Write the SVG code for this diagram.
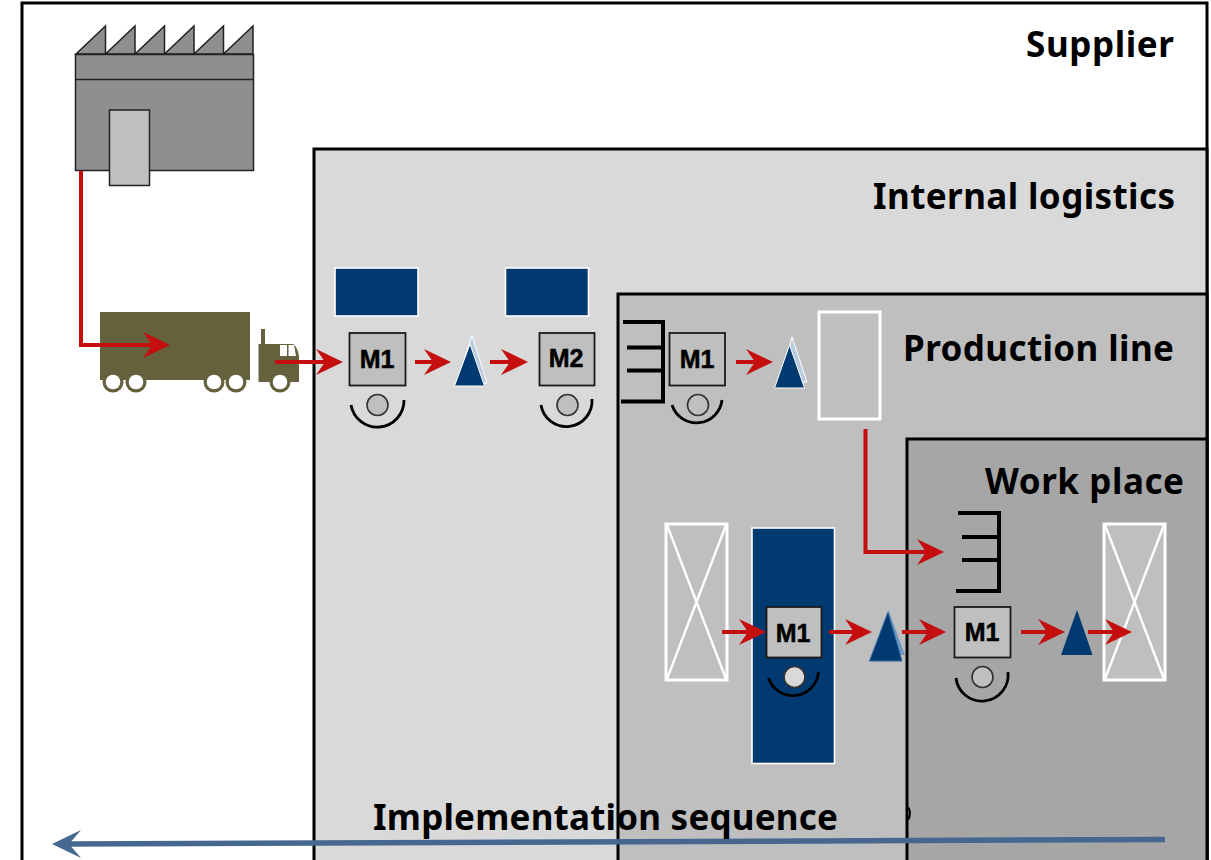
<svg xmlns="http://www.w3.org/2000/svg" width="1211" height="860" viewBox="0 0 1211 860">
<style>
.zone{stroke:#000;stroke-width:3}
.lbl{font-family:"Noto Sans","Open Sans",sans-serif;font-weight:700;font-size:35px;fill:#000}
.m{fill:#bfbfbf;stroke:#1a1a1a;stroke-width:1.8}
.mt{font-family:"Liberation Sans",Arial,sans-serif;font-weight:700;font-size:25px;fill:#000;stroke:#000;stroke-width:.5;text-anchor:middle}
.arc{fill:none;stroke:#000;stroke-width:2.8}
.wheel{fill:#bfbfbf;stroke:#333;stroke-width:1.6}
.tri{fill:#003a70;stroke:#fff;stroke-width:1}
.tri2{fill:#b9cbe0;stroke:#fff;stroke-width:1}
.blue{fill:#003a70;stroke:#fff;stroke-width:1.6}
.box{fill:none;stroke:#fff;stroke-width:3}
.x{stroke:#fff;stroke-width:2.400;fill:none}
.rack{fill:none;stroke:#000;stroke-width:4}
.red{fill:none;stroke:#c50f0f;stroke-width:4}
.olive{fill:#65613d}
</style>
<defs>
<path id="head" d="M0 0L-27 -13L-18 0L-27 13Z" fill="#c50f0f"/>
</defs>
<rect width="1211" height="860" fill="#fff"/>
<g id="zones">
<rect id="supplier" class="zone" x="22" y="3" width="1185" height="1000" fill="#fff"/>
<rect id="internal-logistics" class="zone" x="314" y="149" width="893" height="800" fill="#d9d9d9"/>
<rect id="production-line" class="zone" x="618" y="294" width="589" height="700" fill="#bfbfbf"/>
<rect id="work-place" class="zone" x="907" y="439" width="300" height="600" fill="#a6a6a6"/>
</g>
<g id="factory" stroke="#222" stroke-width="1.5" fill="#8f8f8f">
<path d="M76 54L105.500 26V54L135 26V54L164.500 26V54L194 26V54L223.500 26V54L253 26V54Z"/>
<rect x="75.500" y="54.500" width="178" height="116"/>
<path d="M75.500 79.500H253.500" fill="none"/>
<rect x="109.500" y="110" width="40" height="75.500" fill="#bfbfbf"/>
</g>
<g id="truck">
<rect class="olive" x="100" y="312" width="150" height="68"/>
<path class="olive" d="M258.500 382V344H261V329H265V344H293Q297 346 299 356V382Z"/>
<path d="M280 345H287V356H280ZM288.500 345H294L296 356H288.500Z" fill="#fff"/>
<g class="olive">
<circle cx="113" cy="382" r="10.500"/><circle cx="136" cy="382" r="10.500"/><circle cx="214" cy="382" r="10.500"/><circle cx="236" cy="382" r="10.500"/><circle cx="280" cy="382" r="10.500"/>
</g>
<g fill="#fff">
<circle cx="113" cy="382" r="7.300"/><circle cx="136" cy="382" r="7.300"/><circle cx="214" cy="382" r="7.300"/><circle cx="236" cy="382" r="7.300"/><circle cx="280" cy="382" r="7.300"/>
</g>
</g>
<g id="store-1"><rect class="blue" x="335" y="268" width="83" height="48"/></g>
<g id="store-2"><rect class="blue" x="505.500" y="268" width="83" height="48"/></g>
<g id="machine-m1-a">
<rect class="m" x="349.500" y="333" width="56" height="52.500"/>
<text class="mt" x="377" y="368">M1</text>
<circle class="wheel" cx="377.500" cy="405" r="10.500"/>
<path class="arc" d="M351 405A26.700 26.700 0 0 0 404 400"/>
</g>
<g id="buffer-1">
<path class="tri2" d="M472 336L487 383H456Z"/>
<path class="tri" d="M470 344L484.500 386H454.500Z"/>
</g>
<g id="machine-m2">
<rect class="m" x="539.500" y="333" width="55" height="52.500"/>
<text class="mt" x="566" y="367">M2</text>
<circle class="wheel" cx="567.500" cy="405" r="10.500"/>
<path class="arc" d="M541 405A25.700 25.700 0 0 0 592 399"/>
</g>
<g id="rack-1">
<path class="rack" d="M623 322H663V401.500H621M627 347.500H663M627 370.500H663"/>
</g>
<g id="machine-m1-b">
<rect class="m" x="669.500" y="333" width="55.500" height="52.500"/>
<text class="mt" x="697" y="368">M1</text>
<circle class="wheel" cx="698" cy="405" r="10.500"/>
<path class="arc" d="M672 405A25.700 25.700 0 0 0 722 400"/>
</g>
<g id="buffer-2">
<path class="tri2" d="M792 337L807 382H780Z"/>
<path class="tri" d="M789.500 345L804.500 388H774.500Z"/>
</g>
<g id="production-store"><rect class="box" x="819" y="312" width="61" height="107"/></g>
<g id="crate-1">
<rect class="box" x="666" y="524" width="61" height="156"/>
<path class="x" d="M667 525L726 679M726 525L667 679"/>
</g>
<g id="station">
<rect class="blue" x="752" y="528" width="82.500" height="235.500"/>
<rect class="m" x="766.500" y="607" width="55" height="50.500"/>
<text class="mt" x="793" y="642">M1</text>
<circle class="wheel" cx="794.500" cy="677" r="10.500" style="fill:#d9d9d9"/>
<path class="arc" d="M768.500 678A25.700 25.700 0 0 0 818.500 672"/>
</g>
<g id="buffer-3">
<path d="M888 609L905 655H895Z" fill="#6f97c0"/>
<path d="M888 612L902 661H869.500Z" fill="#003a70" stroke="#2f6ba3" stroke-width="1"/>
</g>
<g id="rack-2">
<path class="rack" d="M958 513H999V591H956M962 537H999M962 560H999"/>
</g>
<g id="machine-m1-c">
<rect class="m" x="954.500" y="607" width="56" height="50.500"/>
<text class="mt" x="982" y="641">M1</text>
<circle class="wheel" cx="982.500" cy="677" r="10.500"/>
<path class="arc" d="M956 678A26 26 0 0 0 1008 672"/>
</g>
<g id="buffer-4">
<path d="M1077 610L1092.500 655H1061Z" fill="#003a70"/>
</g>
<g id="crate-2">
<rect x="1104" y="524" width="61" height="156" fill="#bfbfbf" stroke="#fff" stroke-width="3"/>
<path class="x" d="M1105 525L1164 679M1164 525L1105 679"/>
</g>
<g id="connectors">
<path class="red" d="M81 171V345H154"/><use href="#head" x="170" y="345"/>
<path class="red" d="M275 362H327"/><use href="#head" x="343" y="362"/>
<path class="red" d="M415 362H435"/><use href="#head" x="451" y="362"/>
<path class="red" d="M490 362H512"/><use href="#head" x="528" y="362"/>
<path class="red" d="M736 362H757"/><use href="#head" x="773" y="362"/>
<path class="red" d="M865.500 429V552H928"/><use href="#head" x="944" y="552"/>
<path class="red" d="M722 632H750"/><use href="#head" x="766" y="632"/>
<path class="red" d="M829 632H856"/><use href="#head" x="872" y="632"/>
<path class="red" d="M902 632H930"/><use href="#head" x="946" y="632"/>
<path class="red" d="M1021 632H1049"/><use href="#head" x="1065" y="632"/>
<path class="red" d="M1088 632H1116"/><use href="#head" x="1132" y="632"/>
<path d="M1165 839.500L68 844" fill="none" stroke="#466790" stroke-width="5.500"/>
<path d="M52 844L81 830L69 844L81 858Z" fill="#466790"/>
</g>
<path d="M908 807Q912 813 908 820" fill="none" stroke="#000" stroke-width="2"/>
<g id="labels">
<text class="lbl" x="1026" y="57" textLength="148">Supplier</text>
<text class="lbl" x="873" y="209" textLength="302">Internal logistics</text>
<text class="lbl" x="903" y="361" textLength="271">Production line</text>
<text class="lbl" x="985" y="494" textLength="199">Work place</text>
<text class="lbl" x="373" y="830" textLength="465">Implementation sequence</text>
</g>
</svg>
